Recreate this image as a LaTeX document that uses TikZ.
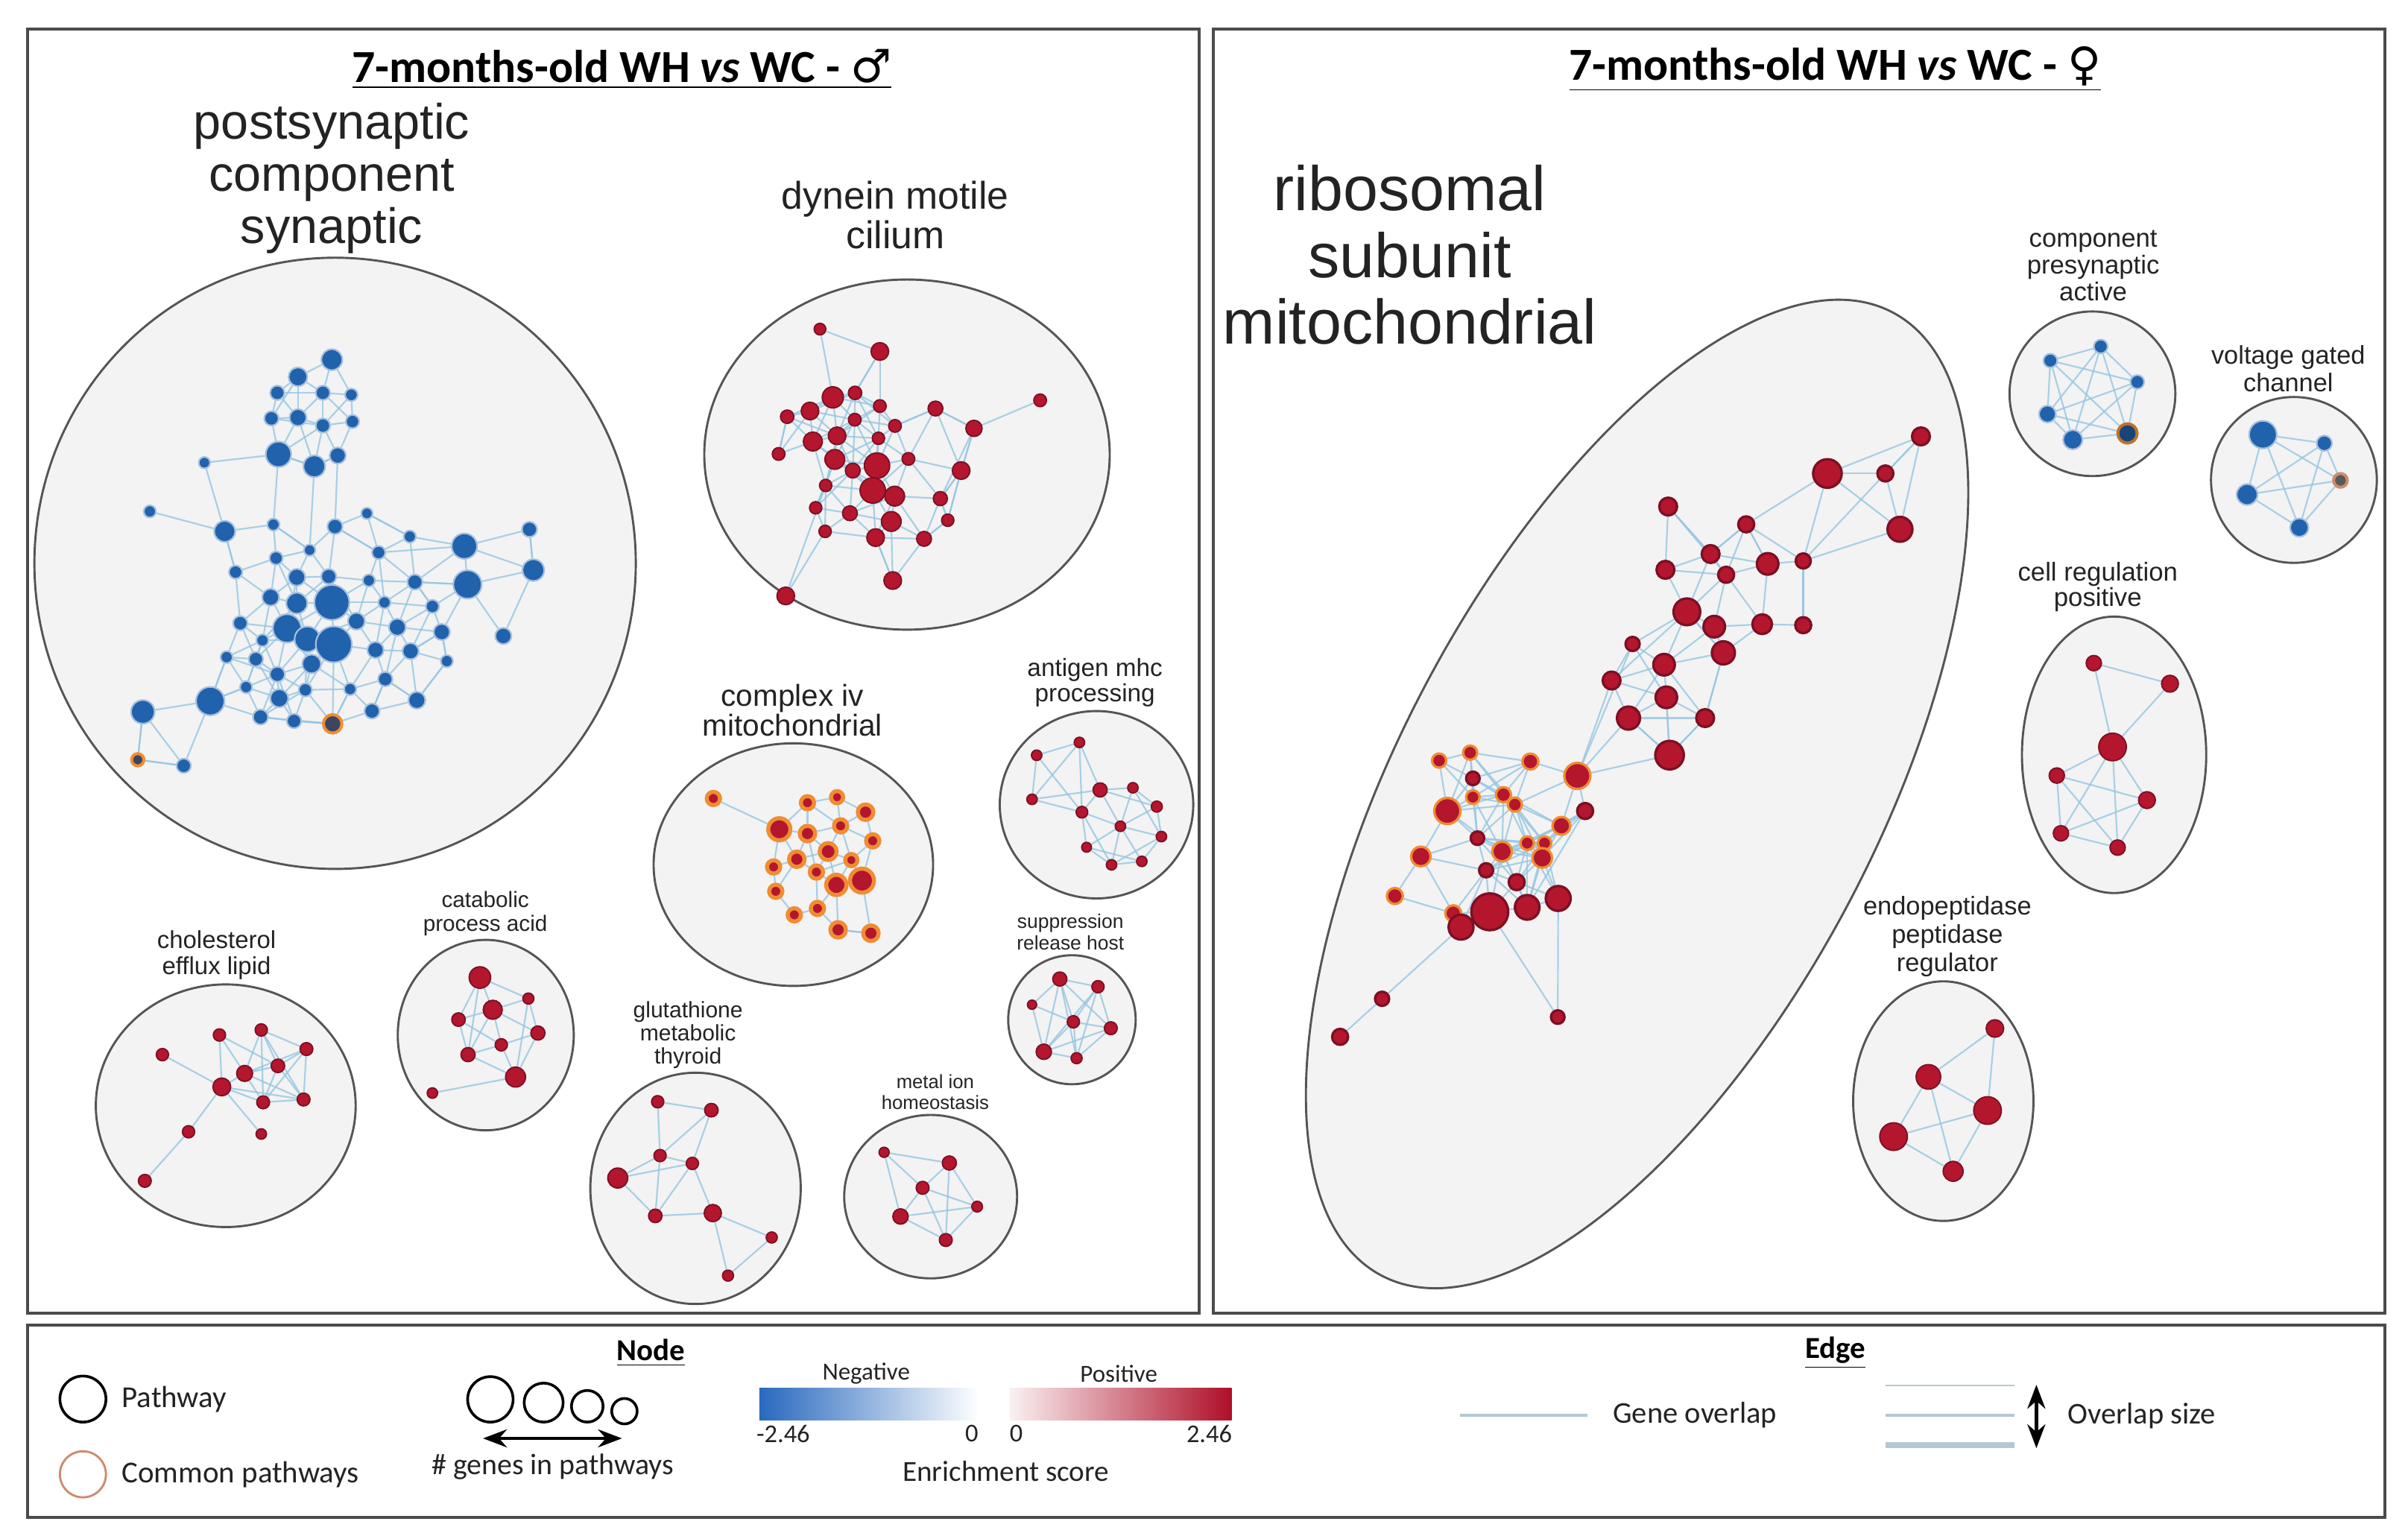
\documentclass[tikz,border=0pt]{standalone}
\usepackage{fontspec}
\setmainfont{Carlito}
\newfontfamily\lblfont{Liberation Sans}
\newfontfamily\signfont{DejaVu Sans}
\usetikzlibrary{calc}
\usetikzlibrary{arrows.meta}
\definecolor{nodeblue}{RGB}{33,98,172}
\definecolor{nodered}{RGB}{180,22,45}
\definecolor{rimred}{RGB}{125,15,35}
\definecolor{ringorange}{RGB}{240,140,50}
\definecolor{commondark}{RGB}{60,70,95}
\definecolor{clusterfill}{RGB}{243,243,243}
\definecolor{clusterline}{RGB}{85,85,85}
\definecolor{edgeblue}{RGB}{150,198,226}
\definecolor{framegray}{RGB}{75,75,75}
\definecolor{labelgray}{RGB}{35,35,35}
\definecolor{barblue}{RGB}{40,105,190}
\definecolor{barred}{RGB}{175,15,40}
\definecolor{ringbrown}{RGB}{205,140,110}
\definecolor{legline}{RGB}{180,200,212}
\pgfdeclarelayer{bg}
\pgfdeclarelayer{links}
\pgfsetlayers{bg,links,main}

% join every pair of nodes #1<i>, #1<j> that are closer than #3
\newcommand\linkclose[3]{%
  \foreach \i in {1,...,#2}{%
    \foreach \j in {\i,...,#2}{%
      \ifnum\j>\i
        \path let \p1=($(#1\i)-(#1\j)$), \n1={veclen(\x1,\y1)} in
          \pgfextra{\ifdim\n1<#3\relax\gdef\dolink{1}\else\gdef\dolink{0}\fi};
        \ifnum\dolink=1 \draw[gedge] (#1\i) -- (#1\j);\fi
      \fi
    }%
  }%
}

\begin{document}
\begin{tikzpicture}[x=0.02cm, y=-0.02cm,
    gnode/.style={circle, inner sep=0pt, minimum size=0.4mm*#1},
    bnode/.style={gnode=#1, fill=nodeblue, draw=nodeblue!40!white, line width=0.6pt},
    rnode/.style={gnode=#1, fill=nodered, draw=rimred, line width=0.5pt},
    ring/.style={draw=ringorange, line width=1.1pt},
    gedge/.style={draw=edgeblue, line width=0.6pt, opacity=0.8},
    cluster/.style={fill=clusterfill, draw=clusterline, line width=0.8pt},
    clabel/.style={font=\lblfont, text=labelgray, align=center, inner sep=0pt},
    panel/.style={draw=framegray, line width=1.1pt},
    ltext/.style={text=labelgray, inner sep=0pt}]

    \useasboundingbox (0,0) rectangle (1568,1002);

    % Panels
    \draw[panel] (18,19) rectangle (781,855);
    \draw[panel] (790,19) rectangle (1553,855);
    \draw[panel] (18,863) rectangle (1553,988);
    \node[font=\fontsize{17}{20}\selectfont\bfseries] (tmale) at (405,45)
        {\underline{7-months-old WH \textit{vs} WC - {\signfont ♂}}};
    \node[font=\fontsize{17}{20}\selectfont\bfseries] (tfemale) at (1195,45)
        {\underline{7-months-old WH \textit{vs} WC - {\signfont ♀}}};

    % Cluster backgrounds
    \begin{pgfonlayer}{bg}
        \draw[cluster] (218.2,366.8) ellipse [x radius=195.8, y radius=199];
        \draw[cluster] (590.6,296) ellipse [x radius=132, y radius=114];
        \draw[cluster] (516.6,563) ellipse [x radius=91, y radius=79];
        \draw[cluster] (714,524) ellipse [x radius=63, y radius=61];
        \draw[cluster] (698,664) ellipse [x radius=41.5, y radius=42];
        \draw[cluster] (606,779.2) ellipse [x radius=56.3, y radius=53.2];
        \draw[cluster] (452.9,773.8) ellipse [x radius=68.5, y radius=75.3];
        \draw[cluster] (147,720) ellipse [x radius=84.6, y radius=79];
        \draw[cluster] (316.3,674) ellipse [x radius=57.3, y radius=62];
        \draw[cluster, rotate around={62:(1066,517)}] (1066,517) ellipse [x radius=355, y radius=155];
        \draw[cluster] (1362.5,256.4) ellipse [x radius=54, y radius=53.6];
        \draw[cluster] (1493.7,312.5) ellipse [x radius=54, y radius=54];
        \draw[cluster] (1376.6,491.5) ellipse [x radius=60, y radius=90];
        \draw[cluster] (1265.4,717) ellipse [x radius=58.7, y radius=78];
    \end{pgfonlayer}

    % Cluster labels
    \node[clabel, font=\lblfont\fontsize{18.4}{19.3}\selectfont] (lps) at (216,116) {postsynaptic\\component\\synaptic};
    \node[clabel, font=\lblfont\fontsize{14.3}{14.7}\selectfont] (ldm) at (583,140) {dynein motile\\cilium};
    \node[clabel, font=\lblfont\fontsize{11.2}{11}\selectfont] (lcx) at (516,462.5) {complex iv\\mitochondrial};
    \node[clabel, font=\lblfont\fontsize{9.2}{9.6}\selectfont] (lag) at (713,444.5) {antigen mhc\\processing};
    \node[clabel, font=\lblfont\fontsize{7.3}{7.9}\selectfont] (lsr) at (697,607) {suppression\\release host};
    \node[clabel, font=\lblfont\fontsize{7.1}{7.9}\selectfont] (lmi) at (609,711) {metal ion\\homeostasis};
    \node[clabel, font=\lblfont\fontsize{8.3}{8.5}\selectfont] (lgl) at (448,674) {glutathione\\metabolic\\thyroid};
    \node[clabel, font=\lblfont\fontsize{9.1}{9.6}\selectfont] (lce) at (141,622) {cholesterol\\efflux lipid};
    \node[clabel, font=\lblfont\fontsize{8.2}{8.9}\selectfont] (lca) at (316,595) {catabolic\\process acid};
    \node[clabel, font=\lblfont\fontsize{23.3}{24.7}\selectfont] (lrb) at (918,166) {ribosomal\\subunit\\mitochondrial};
    \node[clabel, font=\lblfont\fontsize{9.6}{9.9}\selectfont] (lcp) at (1363,173) {component\\presynaptic\\active};
    \node[clabel, font=\lblfont\fontsize{9.5}{10.2}\selectfont] (lvg) at (1490,240) {voltage gated\\channel};
    \node[clabel, font=\lblfont\fontsize{9.6}{9.4}\selectfont] (lcr) at (1366,382) {cell regulation\\positive};
    \node[clabel, font=\lblfont\fontsize{9.5}{10.5}\selectfont] (lep) at (1268,610) {endopeptidase\\peptidase\\regulator};

    % postsynaptic component synaptic
    \begin{scope}[shift={(19.4,160.1)}, xscale=0.2538, yscale=0.26]
        \foreach \x/\y/\r [count=\k] in {775/285/5.7, 688/328/5.1, 635/368/3.9, 752/368/3.9, 825/373/3.4,
            620/432/3.9, 688/430/4.6, 752/450/3.9, 828/440/3.6, 638/522/6.9, 730/552/5.9, 790/525/4.4,
            448/543/3.1, 308/665/3.3, 500/715/5.7, 625/698/3.3, 783/703/4.1, 865/670/3.1, 975/728/3.3,
            1115/752/6.9, 1282/710/4.1, 718/762/3.1, 632/782/3.6, 895/768/3.6, 528/817/3.6, 685/830/4.6,
            767/828/4.1, 870/838/3.3, 988/842/4.1, 1123/848/7.7, 1292/812/5.9, 618/880/4.6, 685/895/5.7,
            775/893/9.5, 910/893/3.3, 1033/903/3.6, 540/945/3.9, 660/958/7.7, 838/940/4.6, 943/955/4.6,
            1057/967/4.4, 1215/977/4.4, 597/988/3.3, 712/985/6.9, 780/998/9.8, 505/1030/3.3, 580/1035/3.9,
            887/1012/4.4, 977/1015/4.4, 1070/1040/3.3, 723/1047/5.1, 635/1073/4.1, 912/1085/3.9, 555/1105/3.3,
            463/1140/7.7, 640/1133/4.9, 707/1112/3.6, 822/1110/3.3, 993/1138/4.6, 290/1167/6.4, 592/1180/4.1,
            678/1190/3.9, 878/1165/4.1, 395/1302/3.9}
            \node[bnode=1.2*\r] (ps\k) at (\x,\y) {};
        \node[bnode=6, fill=commondark, ring] (ps65) at (777,1197) {};
        \node[bnode=4, fill=commondark, ring] (ps66) at (277,1287) {};
    \end{scope}
    \begin{pgfonlayer}{links}
        \linkclose{ps}{66}{20pt}
        \foreach \a/\b in {13/10, 13/15, 14/15, 10/16, 11/22, 20/21, 20/31, 30/31, 21/31, 20/24, 30/42,
            31/42, 30/41, 60/55, 60/66, 60/64, 55/64, 66/64, 55/46, 55/54, 18/19, 36/29, 50/59, 45/65, 29/20,
            30/29, 17/24, 19/20, 12/17, 10/11, 11/12, 16/22, 15/25, 53/59, 49/41, 50/41, 61/65, 62/65, 58/65, 63/53}
            \draw[gedge] (ps\a) -- (ps\b);
    \end{pgfonlayer}

    % dynein motile cilium
    \begin{scope}[shift={(451.3,184.4)}, xscale=0.1857, yscale=0.1616]
        \foreach \x/\y/\r [count=\k] in {445/185/3.3, 655/275/5, 490/460/6, 568/442/3.8, 655/495/3.6,
            410/515/5, 330/538/3.8, 850/505/4.2, 708/575/3.6, 567/550/3.6, 1217/472/3.6, 985/585/4.6,
            505/615/5, 420/638/5.4, 650/625/3.5, 300/688/3.6, 497/710/5.6, 755/708/3.6, 645/735/7.2,
            560/755/4.2, 940/755/5, 630/835/7.2, 707/858/5.6, 465/815/3.5, 867/868/4, 430/905/3.5,
            550/927/4.2, 893/955/3.5, 695/960/5.6, 463/1000/3.5, 640/1025/5, 810/1030/4.2, 700/1198/5, 325/1260/5}
            \node[rnode=1.15*\r] (dm\k) at (\x,\y) {};
    \end{scope}
    \begin{pgfonlayer}{links}
        \linkclose{dm}{34}{20pt}
        \foreach \a/\b in {1/2, 1/3, 2/5, 2/4, 11/12, 12/8, 12/21, 8/21, 8/9, 8/18, 21/18, 34/24, 34/30,
            33/29, 33/31, 12/25, 25/28, 21/28, 16/7, 21/25, 32/28}
            \draw[gedge] (dm\a) -- (dm\b);
    \end{pgfonlayer}

    % complex iv, antigen mhc, suppression, metal ion
    \begin{scope}[shift={(417.4,417.4)}, xscale=0.2321, yscale=0.2786]
        \foreach \x/\y/\r [count=\k] in {203/368/3.6, 388/440/6, 467/378/3.6, 550/365/3.3, 630/400/4.2,
            467/450/4.2, 560/432/3.6, 650/467/3.6, 525/492/4.6, 437/510/4.2, 590/512/3.3, 372/528/3.6,
            492/540/3.6, 548/570/5.5, 620/560/6.5, 378/585/3.6, 430/640/3.6, 495/625/3.6, 553/675/4.2, 645/683/4.2}
            \node[rnode=1.2*\r, ring, line width=1.5pt] (cx\k) at (\x,\y) {};
        \foreach \x/\y/\r [count=\k] in {1230/237/3.4, 1110/267/3.4, 1097/370/3.4, 1288/348/4.6, 1380/343/3.4,
            1237/400/3.8, 1447/387/3.6, 1345/433/3.4, 1460/457/3.4, 1250/482/3.2, 1320/523/3.4, 1405/515/3.4}
            \node[rnode=\r] (ag\k) at (\x,\y) {};
        \foreach \x/\y/\r [count=\k] in {1175/790/4.6, 1282/808/4, 1097/850/3, 1213/890/4, 1318/905/4.2,
            1130/960/5, 1222/975/3.6}
            \node[rnode=\r] (sr\k) at (\x,\y) {};
        \foreach \x/\y/\r [count=\k] in {682/1195/3.3, 865/1220/4.6, 790/1278/4.2, 943/1322/3.5, 728/1345/5, 855/1400/4.2}
            \node[rnode=\r] (mi\k) at (\x,\y) {};
    \end{scope}
    \begin{pgfonlayer}{links}
        \linkclose{cx}{20}{15.5pt}
        \foreach \a/\b in {1/2, 19/20, 15/20, 14/19}
            \draw[gedge] (cx\a) -- (cx\b);
        \foreach \a/\b in {1/2, 1/3, 2/3, 1/4, 1/6, 2/6, 3/6, 3/4, 4/5, 4/6, 4/8, 4/7, 5/7, 5/8, 5/9, 6/8,
            6/10, 6/11, 7/8, 7/9, 8/9, 8/10, 8/11, 8/12, 9/12, 10/11, 11/12, 10/12, 9/11}
            \draw[gedge] (ag\a) -- (ag\b);
        \foreach \a/\b in {1/2, 1/3, 1/4, 1/5, 1/6, 1/7, 2/4, 2/5, 2/6, 2/7, 3/4, 3/6, 4/5, 4/6, 4/7, 5/6, 5/7, 6/7}
            \draw[gedge] (sr\a) -- (sr\b);
        \foreach \a/\b in {1/3, 1/5, 2/3, 2/4, 2/6, 3/5, 3/4, 3/6, 4/5, 4/6, 5/6, 1/2}
            \draw[gedge] (mi\a) -- (mi\b);
    \end{pgfonlayer}

    % cholesterol, catabolic, glutathione
    \begin{scope}[shift={(48.5,572.6)}, xscale=0.3095, yscale=0.1826]
        \foreach \x/\y/\r [count=\k] in {305/555/4, 393/537/4, 185/625/4, 488/605/4.2, 428/665/4.4,
            358/692/5.2, 310/740/5.8, 397/795/4.2, 482/785/4.2, 240/900/4, 393/908/3.4, 148/1075/4.2}
            \node[rnode=\r] (ce\k) at (\x,\y) {};
        \foreach \x/\y/\r [count=\k] in {853/350/7, 880/465/6.2, 955/425/3.6, 808/500/4.4, 975/548/4.6,
            898/590/4, 828/625/4.6, 928/705/6.5, 753/762/3.4}
            \node[rnode=\r] (ca\k) at (\x,\y) {};
        \foreach \x/\y/\r [count=\k] in {1227/793/4, 1340/823/4.4, 1232/985/4, 1300/1013/4, 1143/1065/6.5,
            1222/1200/4.4, 1343/1190/5.6, 1467/1277/3.6, 1375/1413/3.6}
            \node[rnode=\r] (gl\k) at (\x,\y) {};
    \end{scope}
    \begin{pgfonlayer}{links}
        \foreach \a/\b in {3/7, 1/6, 1/7, 1/5, 2/6, 2/8, 2/5, 2/9, 2/4, 4/5, 4/9, 4/8, 5/6, 5/8, 5/9, 6/7,
            6/8, 6/9, 7/8, 7/9, 7/10, 7/11, 8/9, 10/12, 6/4}
            \draw[gedge] (ce\a) -- (ce\b);
        \foreach \a/\b in {1/2, 1/3, 1/4, 2/3, 2/4, 2/5, 2/6, 2/7, 3/5, 4/6, 4/7, 5/6, 5/8, 6/7, 6/8, 7/8,
            8/9, 3/8, 1/7}
            \draw[gedge] (ca\a) -- (ca\b);
        \foreach \a/\b in {1/2, 1/3, 2/3, 2/4, 3/5, 3/6, 3/4, 4/5, 4/6, 4/7, 5/6, 6/7, 7/8, 7/9, 8/9}
            \draw[gedge] (gl\a) -- (gl\b);
    \end{pgfonlayer}

    % ribosomal subunit mitochondrial
    \begin{scope}[shift={(844.4,184.4)}, xscale=0.2971, yscale=0.3218]
        \foreach \x/\y/\r/\h [count=\k] in {1368/310/5.8/rimred, 1163/385/9.3/rimred, 1290/385/5.2/rimred,
            1322/498/8.1/rimred, 814/452/5.8/rimred, 985/488/5.2/rimred, 1110/562/4.9/rimred, 907/548/5.8/rimred,
            1032/568/7/rimred, 808/580/5.8/rimred, 941/590/5.2/rimred, 855/665/8.7/rimred, 915/695/7/rimred,
            1020/690/6.4/rimred, 1110/692/5.2/rimred, 736/730/4.6/rimred, 935/748/7.5/rimred, 805/772/7/rimred,
            690/804/5.8/rimred, 810/838/7/rimred, 727/880/7.5/rimred, 895/880/5.8/rimred, 817/955/9.3/rimred,
            312/966/4.6/ringorange, 380/950/4.6/ringorange, 512/968/5.2/ringorange, 615/997/8.5/ringorange,
            386/1002/4.4/rimred, 330/1068/8.5/ringorange, 386/1040/4.4/ringorange, 453/1035/4.9/ringorange,
            478/1055/4.6/ringorange, 632/1068/5.2/rimred, 580/1098/5.8/ringorange, 396/1123/4.4/rimred,
            450/1150/6.4/ringorange, 505/1133/4.4/ringorange, 543/1133/4.4/ringorange, 538/1163/6.4/ringorange,
            272/1160/6.4/ringorange, 415/1188/4.6/rimred, 482/1212/5.2/rimred, 215/1240/5.2/ringorange,
            573/1245/8.1/rimred, 343/1275/5.2/ringorange, 423/1272/12/rimred, 505/1263/8/rimred,
            360/1303/8.1/rimred, 187/1448/4.6/rimred, 95/1525/5.2/rimred, 572/1485/4.4/rimred}
            \node[rnode=\r, draw=\h, line width=0.9pt] (rb\k) at (\x,\y) {};
    \end{scope}
    \begin{pgfonlayer}{links}
        \linkclose{rb}{51}{25.5pt}
        \foreach \a/\b in {1/2, 1/3, 1/4, 2/6, 2/7, 2/4, 3/7, 4/7, 6/8, 5/8, 5/11, 7/15, 6/9, 27/19, 27/21,
            27/23, 27/16, 46/51, 44/51, 48/49, 47/33, 21/23, 22/17, 22/23, 19/12, 12/17, 20/23, 21/22}
            \draw[gedge] (rb\a) -- (rb\b);
    \end{pgfonlayer}

    % right panel small clusters
    \foreach \x/\y/\r [count=\k] in {1335.1/234.8/4.5, 1367.9/225.6/4.5, 1391.7/248.7/4.5, 1333.2/269.6/5.5, 1349.7/286.3/6.3}
        \node[bnode=\r] (cp\k) at (\x,\y) {};
    \node[bnode=6.3, fill=nodeblue!70!black, draw=ringorange!80!black, line width=1.1pt] (cp6) at (1385.3,282.2) {};
    \foreach \x/\y/\r [count=\k] in {1473.5/283/9, 1513.5/288.6/5, 1463.2/322/6.8, 1497.2/343.5/6}
        \node[bnode=\r] (vg\k) at (\x,\y) {};
    \node[bnode=4.5, fill=black!65, draw=ringbrown, line width=1.1pt] (vg5) at (1524,312.8) {};
    \foreach \x/\y/\r [count=\k] in {1363.4/431.8/5, 1413/445.2/5.5, 1375.6/486.4/9, 1339.3/505/5,
        1398/521/5.5, 1342/542.6/5, 1378.9/551.9/5}
        \node[rnode=\r] (cr\k) at (\x,\y) {};
    \foreach \x/\y/\r [count=\k] in {1299/669.7/5.7, 1255.7/701.2/8, 1294.2/723.1/9, 1233/740.1/9, 1271.8/762.7/6.5}
        \node[rnode=\r] (ep\k) at (\x,\y) {};
    \begin{pgfonlayer}{links}
        \foreach \a/\b in {1/2, 1/3, 1/4, 1/5, 1/6, 2/3, 2/4, 2/5, 2/6, 3/4, 3/5, 3/6, 4/5, 4/6, 5/6}
            \draw[gedge] (cp\a) -- (cp\b);
        \foreach \a/\b in {1/2, 1/3, 1/4, 1/5, 2/3, 2/4, 2/5, 3/4, 3/5, 4/5}
            \draw[gedge] (vg\a) -- (vg\b);
        \foreach \a/\b in {1/2, 1/3, 2/3, 3/4, 3/5, 3/6, 3/7, 4/5, 4/6, 4/7, 5/6, 5/7, 6/7}
            \draw[gedge] (cr\a) -- (cr\b);
        \foreach \a/\b in {1/2, 1/3, 2/3, 2/4, 2/5, 3/4, 3/5, 4/5}
            \draw[gedge] (ep\a) -- (ep\b);
    \end{pgfonlayer}

    % Legend: node
    \node[circle, draw=black, line width=1pt, minimum size=6mm] (lgpath) at (54,911) {};
    \node[ltext, anchor=west, font=\fontsize{11.3}{13}\selectfont] (tpath) at (79,911) {Pathway};
    \node[circle, draw=ringbrown, line width=0.8pt, minimum size=6mm] (lgcommon) at (54,960) {};
    \node[ltext, anchor=west, font=\fontsize{11.3}{13}\selectfont] (tcommon) at (79,960) {Common pathways};
    \node[font=\fontsize{11.3}{13}\selectfont\bfseries] (tnode) at (424,881) {\underline{Node}};
    \foreach \x/\y/\d [count=\k] in {319.3/911.2/5.92, 354/913.3/5.08, 382.4/915.7/4.12, 406.6/918.9/2.84}
        \node[circle, draw=black, line width=1pt, minimum size=\d mm] (sz\k) at (\x,\y) {};
    \coordinate (ga) at (314.5,936.6);
    \coordinate (gb) at (405,936.6);
    \draw[{Stealth}-{Stealth}, line width=1.3pt] (ga) -- (gb);
    \node[ltext, font=\fontsize{11}{13}\selectfont] (tgenes) at (360,955) {\# genes in pathways};
    \shade[left color=barblue, right color=white] (494.4,904) rectangle (637.5,924.7);
    \shade[left color=barred!6!white, right color=barred] (657.5,904) rectangle (802,924.7);
    \node[ltext, font=\fontsize{9.1}{11}\selectfont] (tneg) at (564,894.6) {Negative};
    \node[ltext, font=\fontsize{9.1}{11}\selectfont] (tpos) at (728.5,894.6) {Positive};
    \node[ltext, font=\fontsize{9.5}{11}\selectfont] (tmin) at (510,933.5) {-2.46};
    \node[ltext, font=\fontsize{9.5}{11}\selectfont] (tz1) at (632.8,933.5) {0};
    \node[ltext, font=\fontsize{9.5}{11}\selectfont] (tz2) at (661.7,933.5) {0};
    \node[ltext, font=\fontsize{9.5}{11}\selectfont] (tmax) at (787.4,933.5) {2.46};
    \node[ltext, font=\fontsize{10.8}{13}\selectfont] (tenr) at (655,958) {Enrichment score};

    % Legend: edge
    \node[font=\fontsize{11.3}{13}\selectfont\bfseries] (tedge) at (1195,881) {\underline{Edge}};
    \coordinate (go1) at (950.6,921.5);
    \coordinate (go2) at (1033.5,921.5);
    \draw[legline, line width=0.9pt] (go1) -- (go2);
    \node[ltext, anchor=west, font=\fontsize{11.2}{13}\selectfont] (tgo) at (1050,921.5) {Gene overlap};
    \foreach \y/\w [count=\k] in {902/0.5pt, 921.5/0.9pt, 941/2.4pt} {
        \coordinate (os\k a) at (1227.7,\y);
        \coordinate (os\k b) at (1311.6,\y);
        \draw[legline, line width=\w] (os\k a) -- (os\k b);
    }
    \coordinate (oa) at (1326,901.7);
    \coordinate (ob) at (1326,943);
    \draw[{Stealth}-{Stealth}, line width=1.3pt] (oa) -- (ob);
    \node[ltext, anchor=west, font=\fontsize{11.2}{13}\selectfont] (tos) at (1346,922) {Overlap size};
\end{tikzpicture}
\end{document}
